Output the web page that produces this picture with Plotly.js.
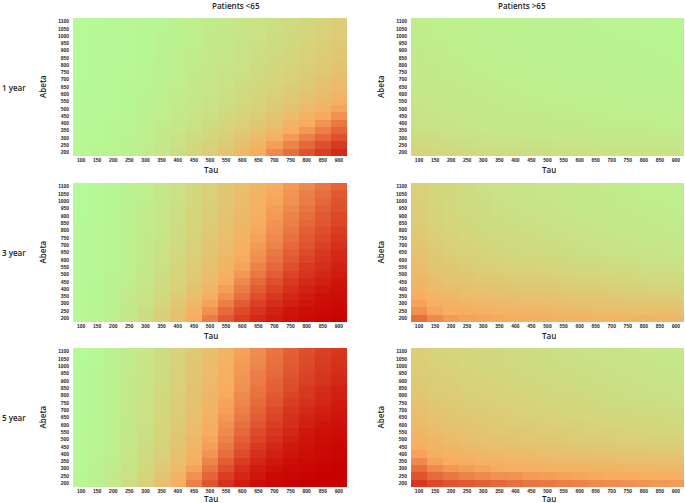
<!DOCTYPE html>
<html><head><meta charset="utf-8">
<script src="https://cdn.plot.ly/plotly-3.0.1.min.js"></script>
<style>html,body{margin:0;padding:0;background:#fff}#chart{width:685px;height:503px}</style>
</head><body><div id="chart"></div>
<script>
// Tau (x) and Abeta (y) grid values
const tau = [100,150,200,250,300,350,400,450,500,550,600,650,700,750,800,850,900];
const abeta = [200,250,300,350,400,450,500,550,600,650,700,750,800,850,900,950,1000,1050,1100];
const rowLabels = ["1 year","3 year","5 year"];
const colLabels = ["Patients <65","Patients >65"];
const xTitle = "Tau";
const yTitle = "Abeta";

// Each matrix: rows follow abeta (200 -> 1100), columns follow tau (100 -> 900). Values: risk (%)
const young1 = [
[2,3,4,6,9,13,18,23,28,34,42,50,60,68,76,82,88],
[2,3,4,5,8,12,16,21,26,31,38,45,54,62,70,77,83],
[1,2,3,5,7,11,15,19,23,28,34,40,47,55,63,70,77],
[1,2,3,4,7,10,13,17,21,25,30,36,42,49,56,63,71],
[1,2,3,4,6,9,12,15,19,23,27,32,38,44,50,57,65],
[1,2,2,4,6,8,11,14,17,21,25,29,34,40,45,51,58],
[1,1,2,3,5,8,10,13,16,19,23,27,31,36,41,46,52],
[1,1,2,3,5,7,9,12,15,18,21,25,29,33,37,42,47],
[1,1,2,3,5,7,9,11,14,17,20,23,27,31,35,39,44],
[1,1,2,3,4,6,8,11,13,16,19,22,25,29,33,37,41],
[0,1,2,3,4,6,8,10,13,15,18,21,24,27,31,35,39],
[0,1,2,2,4,6,8,10,12,15,17,20,23,26,29,33,37],
[0,1,1,2,4,5,7,9,12,14,16,19,22,25,28,31,35],
[0,1,1,2,3,5,7,9,11,13,16,18,21,24,27,30,33],
[0,1,1,2,3,5,7,9,11,13,15,18,20,23,26,29,32],
[0,1,1,2,3,5,6,8,10,12,15,17,19,22,25,28,31],
[0,1,1,2,3,5,6,8,10,12,14,16,19,21,24,27,30],
[0,1,1,2,3,4,6,8,10,12,14,16,18,21,23,26,29],
[0,0,1,2,3,4,6,8,9,11,13,16,18,20,23,25,28]
];
const old1 = [
[25,23,22,21,20,19,19,18,18,17,17,16,16,16,15,15,15],
[22,20,19,18,17,16,16,15,15,14,14,14,13,13,13,13,12],
[19,18,17,16,15,14,14,13,13,12,12,12,11,11,11,11,11],
[17,16,15,14,13,13,12,12,11,11,11,10,10,10,10,9,9],
[16,15,14,13,12,12,11,11,10,10,10,9,9,9,9,8,8],
[15,14,13,12,11,11,10,10,10,9,9,9,8,8,8,8,8],
[14,13,12,11,11,10,10,9,9,9,8,8,8,8,7,7,7],
[13,12,11,11,10,10,9,9,8,8,8,8,7,7,7,7,7],
[12,11,11,10,10,9,9,8,8,8,7,7,7,7,6,6,6],
[12,11,10,10,9,9,8,8,8,7,7,7,6,6,6,6,6],
[11,10,10,9,9,8,8,8,7,7,7,6,6,6,6,5,5],
[11,10,9,9,8,8,8,7,7,7,6,6,6,6,5,5,5],
[10,10,9,8,8,8,7,7,7,6,6,6,6,5,5,5,5],
[10,9,9,8,8,7,7,7,6,6,6,6,5,5,5,5,4],
[10,9,8,8,7,7,7,6,6,6,6,5,5,5,5,4,4],
[9,9,8,8,7,7,6,6,6,6,5,5,5,5,4,4,4],
[9,8,8,7,7,7,6,6,6,5,5,5,5,4,4,4,4],
[9,8,8,7,7,6,6,6,5,5,5,5,4,4,4,4,3],
[8,8,7,7,6,6,6,5,5,5,5,4,4,4,4,3,3]
];
const young3 = [
[2,4,8,13,20,28,38,50,64,74,82,88,92,95,97,98,99],
[2,4,7,12,18,26,35,46,58,69,78,85,90,94,96,97,98],
[2,3,6,11,16,23,32,42,53,63,73,81,87,91,94,96,97],
[1,3,6,10,15,21,29,38,48,58,68,77,84,89,92,95,96],
[1,3,5,9,14,20,27,35,44,54,64,73,80,86,90,93,95],
[1,3,5,8,13,19,25,33,41,50,60,69,77,83,88,91,94],
[1,2,5,8,12,18,24,31,39,47,56,65,73,80,85,89,92],
[1,2,4,8,12,17,23,30,37,45,53,62,70,77,83,87,91],
[1,2,4,7,11,16,22,28,35,43,51,59,67,74,80,85,89],
[1,2,4,7,11,16,21,27,34,41,49,57,65,72,78,83,88],
[1,2,4,7,10,15,20,26,33,40,47,55,62,70,76,81,86],
[1,2,4,6,10,14,19,25,32,38,45,53,60,67,74,79,84],
[1,2,4,6,10,14,19,25,31,37,44,51,58,65,72,77,82],
[1,2,3,6,9,13,18,24,30,36,43,50,57,63,70,75,80],
[0,2,3,6,9,13,18,23,29,35,42,48,55,62,68,74,79],
[0,2,3,6,9,13,17,23,28,34,41,47,54,60,66,72,77],
[0,1,3,5,9,12,17,22,28,33,40,46,52,58,64,70,76],
[0,1,3,5,8,12,16,21,27,33,39,45,51,57,63,68,74],
[0,1,3,5,8,12,16,21,26,32,38,44,49,55,60,66,71]
];
const old3 = [
[68,60,55,53,52,51,50,49,48,47,47,46,46,45,45,44,44],
[58,52,49,48,47,46,45,44,43,42,41,40,40,39,38,38,37],
[53,47,45,43,42,41,40,39,38,37,36,35,35,34,33,33,32],
[49,44,42,40,39,38,37,36,35,34,33,32,31,30,30,29,28],
[46,41,39,37,36,35,34,33,32,31,30,29,28,27,26,25,25],
[43,39,36,34,33,32,31,30,29,28,27,26,25,24,23,22,22],
[41,36,34,32,30,29,28,27,26,25,24,23,22,21,20,20,19],
[39,34,32,30,28,27,26,25,24,23,22,21,20,19,18,17,17],
[37,32,30,28,26,25,24,23,22,21,20,19,18,17,16,15,15],
[35,31,28,26,25,23,22,21,20,19,18,17,16,15,15,14,13],
[34,29,27,25,23,22,21,20,19,18,17,16,15,14,13,13,12],
[32,28,26,24,22,21,20,19,18,17,16,15,14,13,12,12,11],
[31,27,25,23,21,20,19,18,17,16,15,14,13,12,11,11,10],
[30,26,24,22,20,19,18,17,16,15,14,13,12,11,11,10,9],
[29,25,23,21,19,18,17,16,15,14,13,12,11,10,10,9,9],
[29,25,22,20,19,17,16,15,14,13,12,11,11,10,9,9,8],
[28,24,22,20,18,17,16,15,14,13,12,11,10,9,9,8,8],
[27,24,21,19,18,16,15,14,13,12,11,10,10,9,8,8,7],
[27,23,21,19,17,16,15,14,13,12,11,10,9,9,8,7,7]
];
const young5 = [
[3,6,11,18,27,37,49,63,76,86,92,96,98,99,100,100,100],
[3,5,10,16,24,34,45,58,71,82,89,94,97,98,99,100,100],
[2,5,9,15,22,31,41,53,66,77,86,92,95,97,98,99,100],
[2,5,9,14,21,29,38,49,61,73,82,89,93,96,97,98,99],
[2,4,8,13,20,27,36,46,57,68,78,86,91,94,96,97,98],
[2,4,8,13,19,26,34,44,54,65,75,83,89,93,95,97,98],
[2,4,8,12,18,25,33,42,52,62,72,80,86,91,94,96,97],
[2,4,7,12,17,24,32,40,50,60,69,78,84,89,93,95,96],
[2,4,7,12,17,23,31,39,48,58,67,75,82,87,91,94,95],
[1,4,7,11,16,23,30,38,47,56,65,73,80,86,90,92,94],
[1,3,7,11,16,22,29,37,45,54,63,71,78,84,88,91,93],
[1,3,6,11,16,22,29,36,44,53,61,69,76,82,86,89,92],
[1,3,6,10,15,21,28,35,43,51,60,67,74,80,84,88,91],
[1,3,6,10,15,21,27,35,42,50,58,66,72,78,83,87,90],
[1,3,6,10,15,20,27,34,41,49,57,64,71,77,81,85,88],
[1,3,6,10,14,20,26,33,40,48,56,63,69,75,80,84,87],
[1,3,6,9,14,19,26,33,40,47,55,61,68,74,79,83,86],
[0,2,5,9,14,19,25,32,39,46,54,60,67,73,78,82,85],
[0,2,5,9,13,19,25,31,38,45,53,59,66,72,77,81,84]
];
const old5 = [
[84,79,76,74,72,70,68,66,65,63,62,60,59,58,57,56,55],
[76,69,65,62,60,58,57,55,54,53,52,51,50,50,49,49,48],
[68,60,56,54,52,50,49,48,47,46,46,45,45,44,44,43,43],
[60,53,50,48,46,45,44,43,42,41,41,40,40,39,39,38,38],
[53,48,46,44,42,41,40,39,38,37,37,36,35,34,34,33,33],
[49,45,43,41,39,38,37,36,35,34,33,32,31,30,30,29,29],
[46,43,40,38,36,35,34,33,32,31,30,29,28,27,27,26,26],
[43,40,38,36,34,33,32,31,30,29,28,27,26,25,25,24,24],
[41,38,36,34,32,31,30,29,28,27,26,25,24,23,23,22,22],
[39,36,34,32,31,30,28,27,26,25,24,24,23,22,21,21,20],
[37,34,32,31,29,28,27,26,25,24,23,22,21,21,20,19,19],
[35,33,31,29,28,27,26,25,24,23,22,21,20,19,19,18,17],
[34,31,30,28,27,26,25,24,23,22,21,20,19,18,18,17,16],
[32,30,29,27,26,25,24,23,22,21,20,19,18,17,17,16,15],
[31,29,28,26,25,24,23,22,21,20,19,18,17,17,16,15,14],
[30,28,27,25,24,23,22,21,20,19,18,17,17,16,15,14,14],
[29,27,26,24,23,22,21,20,19,18,18,17,16,15,14,14,13],
[28,26,25,24,22,21,20,20,19,18,17,16,15,15,14,13,12],
[27,25,24,23,22,21,20,19,18,17,16,16,15,14,13,12,12]
];

const panels = [[young1, old1],[young3, old3],[young5, old5]];
const colorscale = [[0,'rgb(180,250,150)'],[0.5,'rgb(248,172,96)'],[1,'rgb(200,0,0)']];

const W = 685, H = 503;
const xDom = [[73/W, 347/W],[411/W, 684/W]];
const yPix = [[18,156],[183,322],[348,487]];
const yTitleX = [42/W, 380/W];
const data = [];
const layout = {
  width: W, height: H, margin: {l:0,r:0,t:0,b:0},
  paper_bgcolor: '#fff', plot_bgcolor: '#fff', showlegend: false,
  font: {family: 'Open Sans, sans-serif', color: '#222'},
  annotations: []
};
const tickFont = {family: 'Liberation Sans, Arial, sans-serif', size: 5, color: '#222', weight: 'bold'};
const titleFont = {family: 'Open Sans, sans-serif', size: 8, color: '#222', weight: 600};

let k = 0;
for (let r = 0; r < 3; r++) {
  for (let c = 0; c < 2; c++) {
    k++;
    const sfx = k === 1 ? '' : String(k);
    data.push({
      type: 'heatmap', x: tau, y: abeta, z: panels[r][c],
      zmin: 0, zmax: 100, colorscale: colorscale, showscale: false,
      xaxis: 'x' + sfx, yaxis: 'y' + sfx,
      hovertemplate: 'Tau %{x}<br>Abeta %{y}<br>%{z}<extra></extra>'
    });
    layout['xaxis' + sfx] = {
      domain: xDom[c], anchor: 'y' + sfx,
      tickvals: tau, ticktext: tau.map(String), tickfont: tickFont,
      ticks: '', ticklabelstandoff: 0,
      showgrid: false, zeroline: false, showline: false, fixedrange: true
    };
    layout['yaxis' + sfx] = {
      domain: [1 - yPix[r][1]/H, 1 - yPix[r][0]/H], anchor: 'x' + sfx,
      tickvals: abeta, ticktext: abeta.map(String), tickfont: tickFont,
      ticks: 'outside', ticklen: 2, tickcolor: 'rgba(0,0,0,0)',
      showgrid: false, zeroline: false, showline: false, fixedrange: true
    };
    // axis titles
    const tauY = Math.min(yPix[r][1] + 12.5, H - 5.5);
    layout.annotations.push({
      text: xTitle, xref: 'paper', yref: 'paper',
      x: (xDom[c][0] + xDom[c][1]) / 2 + 1/W, y: 1 - tauY/H,
      xanchor: 'center', yanchor: 'middle', showarrow: false, font: titleFont,
      borderpad: 0, height: 10
    });
    layout.annotations.push({
      text: yTitle, xref: 'paper', yref: 'paper', textangle: -90,
      x: yTitleX[c], y: 1 - ((yPix[r][0] + yPix[r][1]) / 2)/H,
      xanchor: 'center', yanchor: 'middle', showarrow: false, font: titleFont
    });
  }
}
// Row labels
for (let r = 0; r < 3; r++) {
  layout.annotations.push({
    text: rowLabels[r], xref: 'paper', yref: 'paper', x: 0, xanchor: 'left',
    y: 1 - ((yPix[r][0] + yPix[r][1]) / 2) / H, yanchor: 'middle', showarrow: false,
    font: titleFont
  });
}
// Column titles
for (let c = 0; c < 2; c++) {
  layout.annotations.push({
    text: colLabels[c], xref: 'paper', yref: 'paper',
    x: (xDom[c][0] + xDom[c][1]) / 2, y: 1 - 5/H, yanchor: 'middle', showarrow: false,
    font: titleFont
  });
}
Plotly.newPlot('chart', data, layout, {displayModeBar: false, staticPlot: true});
</script></body></html>
